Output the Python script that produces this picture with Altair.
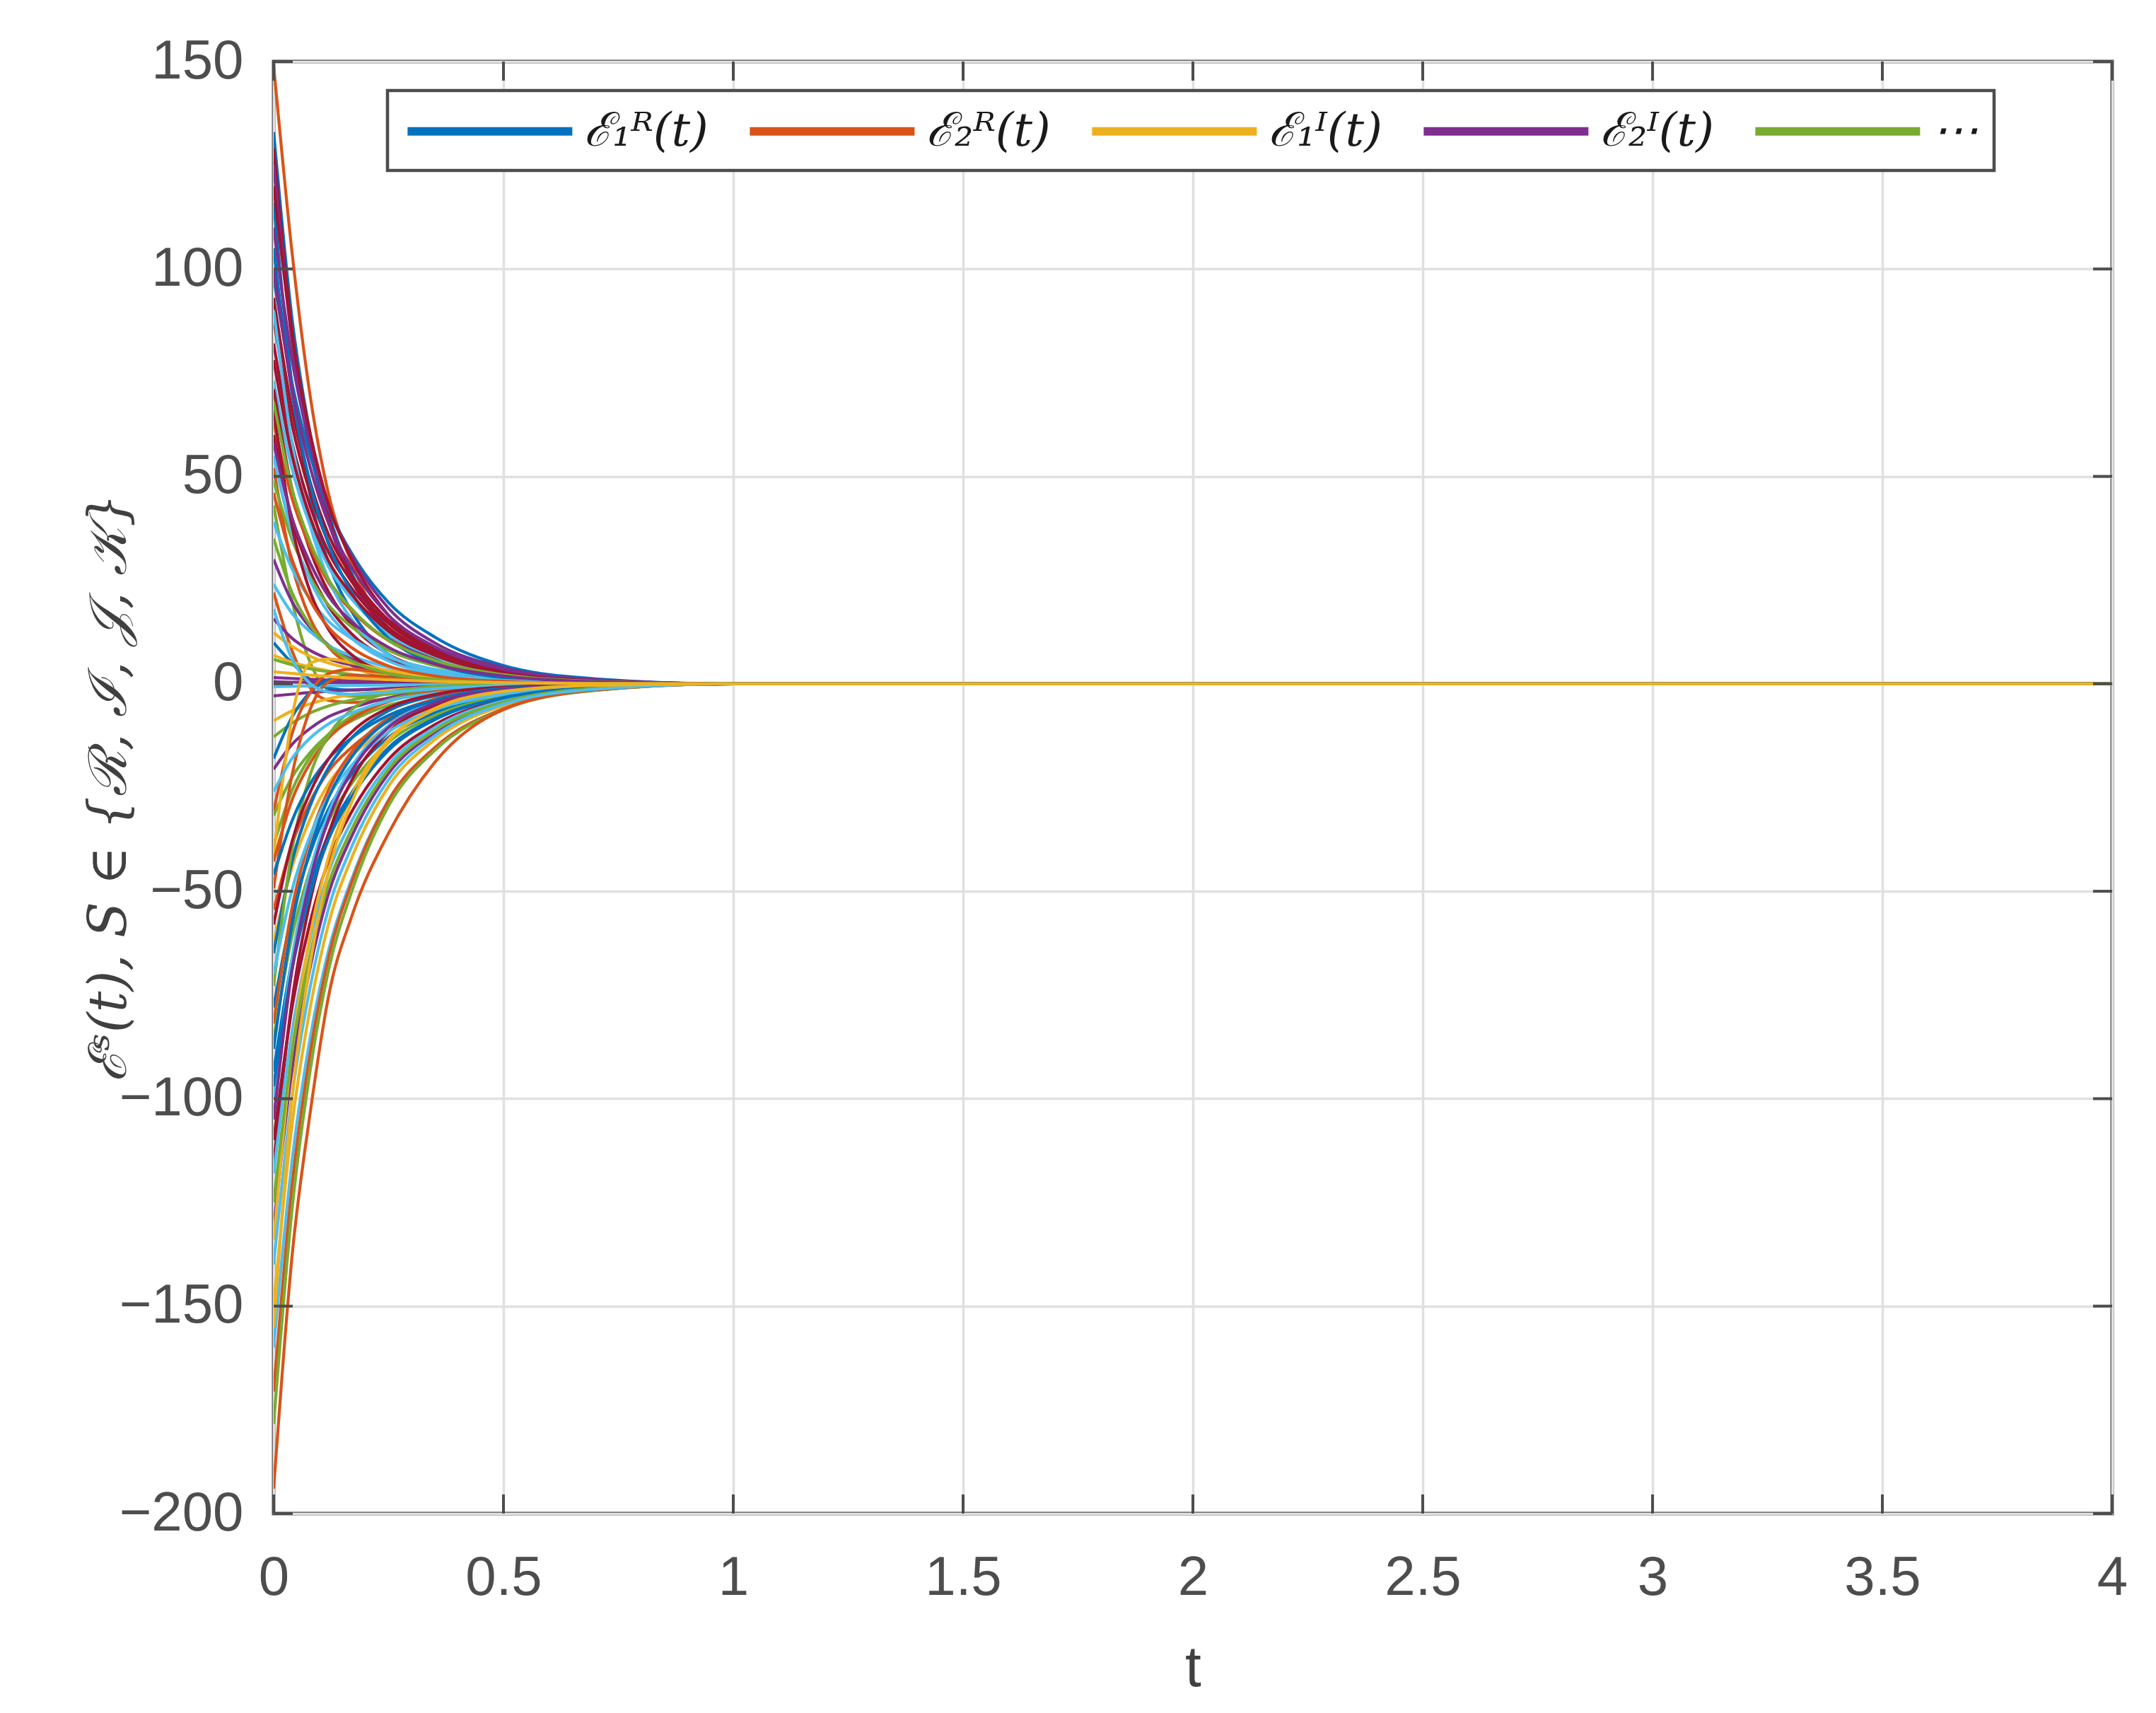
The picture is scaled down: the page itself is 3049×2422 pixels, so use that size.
import altair as alt
import pandas as pd

# ---------------- data ----------------
T_KNOTS = [0, 0.04, 0.08, 0.12, 0.17, 0.25, 0.35, 0.5, 0.7, 1.0, 4.0]

SERIES_NAMES = ["ℰ₁ᴿ(t)", "ℰ₂ᴿ(t)", "ℰ₁ᴵ(t)", "ℰ₂ᴵ(t)", "⋯", "ℰ₁ᴶ(t)", "ℰ₁ᴷ(t)"]
SERIES_COLORS = ["#0072BD", "#D95319", "#EDB120", "#7E2F8E", "#77AC30", "#4DBEEE", "#A2142F"]
COLOR_KEYS = ["B", "O", "Y", "P", "G", "C", "R"]

CURVE_COLORS = [
    "O", "B", "R", "P", "B", "B", "R", "R", "C", "R",
    "O", "R", "O", "G", "G", "C", "P", "C", "O", "P",
    "Y", "B", "Y", "G", "P", "R", "P", "C", "R",
    "P", "C", "P", "Y", "G", "B", "P", "O", "G", "G",
    "Y", "O", "O", "O", "Y", "B", "G", "B", "O", "G",
    "B", "C", "R", "R", "C", "P", "Y", "Y", "C", "O",
    "G", "O",
    "R", "B", "P", "C", "R", "G", "P", "O", "G", "C",
    "C", "B", "R", "C", "B", "B", "P", "G", "C", "Y",
    "Y",
]

CURVE_VALUES = [
    [149, 104, 69, 45.5, 29, 12.3, 5, 1.5, 0.3, 0, 0],
    [133, 88, 60, 41, 26.6, 13.3, 6, 1.7, 0.4, 0, 0],
    [129, 85, 58, 40, 25.8, 12.9, 5.8, 1.7, 0.4, 0, 0],
    [125, 82.5, 56, 38.8, 25, 12.5, 5.6, 1.6, 0.4, 0, 0],
    [116, 72, 45, 29, 17.4, 7, 2.6, 0.6, 0.1, 0, 0],
    [98, 72.5, 54.9, 42.1, 31.4, 19.6, 11.3, 4.4, 1.2, 0, 0],
    [93, 66, 48.4, 35.8, 26, 15.3, 8.4, 3.3, 0.8, 0, 0],
    [88, 62.5, 45.8, 33.9, 24.6, 14.5, 7.9, 3.1, 0.8, 0, 0],
    [73, 51.8, 38, 28.1, 20.4, 12, 6.6, 2.6, 0.7, 0, 0],
    [71, 46.9, 32, 22, 14.2, 7.1, 3.2, 0.9, 0.2, 0, 0],
    [63, 44.7, 32.8, 24.3, 17.6, 10.4, 5.7, 2.2, 0.6, 0, 0],
    [60, 39.6, 27, 18.6, 12, 6, 2.7, 0.8, 0.2, 0, 0],
    [52, 28.6, 15.6, 8.8, 4.4, 1.6, 0.5, 0.1, 0, 0, 0],
    [49, 34.8, 25.5, 18.9, 13.7, 8.1, 4.4, 1.7, 0.4, 0, 0],
    [43, 20, 5, -1.5, -3, -2.5, -1.5, -0.5, -0.1, 0, 0],
    [39, 27.7, 20.3, 15, 10.9, 6.4, 3.5, 1.4, 0.4, 0, 0],
    [30, 19.8, 13.5, 9.3, 6, 3, 1.4, 0.4, 0.1, 0, 0],
    [24, 17, 12.5, 9.2, 6.7, 4, 2.2, 0.8, 0.2, 0, 0],
    [22, 8, -1, -4, -4.5, -3.5, -2, -0.7, -0.2, 0, 0],
    [15.7, 11, 8, 6, 4.5, 2.8, 1.5, 0.6, 0.15, 0, 0],
    [12.3, 9, 6.6, 5, 3.6, 2.2, 1.2, 0.5, 0.1, 0, 0],
    [9.9, 5, 1, -1, -1.5, -1.2, -0.7, -0.3, -0.1, 0, 0],
    [6.9, 5.2, 4, 3.1, 2.3, 1.5, 0.8, 0.3, 0.1, 0, 0],
    [5.9, 4.6, 3.6, 2.9, 2.2, 1.4, 0.8, 0.3, 0.1, 0, 0],
    [1.5, 1.3, 1.1, 0.9, 0.7, 0.5, 0.3, 0.1, 0, 0, 0],
    [82, 58.2, 42.6, 31.6, 23, 13.5, 7.4, 2.9, 0.7, 0, 0],
    [110, 78.1, 57.2, 42.4, 30.8, 18.2, 9.9, 3.9, 1, 0, 0],
    [55, 36.3, 24.8, 17, 11, 5.5, 2.5, 0.7, 0.2, 0, 0],
    [66, 38, 22, 13, 7, 2.6, 0.9, 0.2, 0, 0, 0],
    [0.5, 0.4, 0.35, 0.3, 0.25, 0.15, 0.1, 0.05, 0, 0, 0],
    [-0.7, -0.6, -0.5, -0.45, -0.4, -0.3, -0.2, -0.1, 0, 0, 0],
    [-2.9, -2.5, -2.1, -1.8, -1.5, -1.1, -0.7, -0.3, -0.1, 0, 0],
    [-8.9, -6.5, -4.8, -3.6, -2.6, -1.6, -0.9, -0.35, -0.1, 0, 0],
    [-12.8, -9.5, -7, -5.3, -3.9, -2.4, -1.3, -0.5, -0.1, 0, 0],
    [-18, -8, -2, 1, 2, 1.6, 0.9, 0.3, 0.1, 0, 0],
    [-20.6, -14.6, -10.7, -7.9, -5.8, -3.4, -1.9, -0.7, -0.2, 0, 0],
    [-30.7, -12, -2, 2.5, 3.5, 2.5, 1.3, 0.5, 0.1, 0, 0],
    [-31.7, -22.5, -16.5, -12.2, -8.9, -5.2, -2.9, -1.1, -0.3, 0, 0],
    [-38.9, -25.7, -17.5, -12.1, -7.8, -3.9, -1.8, -0.5, -0.1, 0, 0],
    [-41.4, -8, 5, 6, 5, 3.2, 1.6, 0.6, 0.1, 0, 0],
    [-42.8, -28, -19, -13, -8.5, -4.3, -1.9, -0.6, -0.1, 0, 0],
    [-49.3, -22, -6, 0.5, 2, 1.5, 0.8, 0.3, 0.1, 0, 0],
    [-54.5, -38.7, -28.3, -21, -15.3, -9, -4.9, -1.9, -0.5, 0, 0],
    [-62.3, -44.2, -32.4, -24, -17.4, -10.3, -5.6, -2.2, -0.6, 0, 0],
    [-64.9, -42.8, -29.2, -20.1, -13, -6.5, -2.9, -0.8, -0.2, 0, 0],
    [-72.8, -40, -21.8, -12.4, -6.2, -2.2, -0.7, -0.1, 0, 0, 0],
    [-78, -55.4, -40.6, -30, -21.8, -12.9, -7, -2.7, -0.7, 0, 0],
    [-81.9, -54, -36.9, -25.4, -16.4, -8.2, -3.7, -1.1, -0.2, 0, 0],
    [-85.7, -60.8, -44.6, -33, -24, -14.1, -7.7, -3, -0.8, 0, 0],
    [-93.5, -66.4, -48.6, -36, -26.2, -15.4, -8.4, -3.3, -0.8, 0, 0],
    [-100, -66, -45, -31, -20, -10, -4.5, -1.3, -0.3, 0, 0],
    [-110, -78.1, -57.2, -42.4, -30.8, -18.2, -9.9, -3.9, -1, 0, 0],
    [-115.8, -76.4, -52.1, -35.9, -23.2, -11.6, -5.2, -1.5, -0.3, 0, 0],
    [-118, -83.8, -61.4, -45.4, -33, -19.5, -10.6, -4.1, -1.1, 0, 0],
    [-131, -93, -68.1, -50.4, -36.7, -21.6, -11.8, -4.6, -1.2, 0, 0],
    [-134, -88.4, -60.3, -41.5, -26.8, -13.4, -6, -1.7, -0.4, 0, 0],
    [-149.7, -106.3, -77.8, -57.6, -41.9, -24.7, -13.5, -5.2, -1.3, 0, 0],
    [-160, -115, -85, -64, -47, -28, -15.5, -6, -1.5, 0, 0],
    [-170.6, -121, -88.7, -65.7, -47.8, -28.1, -15.4, -6, -1.5, 0, 0],
    [-178.4, -126.7, -92.8, -68.7, -50, -29.4, -16.1, -6.2, -1.6, 0, 0],
    [-194, -138, -103, -75, -56, -36, -19, -6.2, -1.5, 0, 0],
    [120, 84, 60, 43, 30, 16.5, 8, 2.8, 0.7, 0, 0],
    [105, 70, 48, 33.5, 22, 11, 5, 1.5, 0.3, 0, 0],
    [100, 71, 52, 38.5, 28, 16.5, 9, 3.5, 0.9, 0, 0],
    [90, 58, 38, 25, 15.5, 7, 3, 0.8, 0.2, 0, 0],
    [78, 55, 40, 29.5, 21.5, 12.7, 6.9, 2.7, 0.7, 0, 0],
    [68, 47, 34, 25, 18, 10.5, 5.7, 2.2, 0.6, 0, 0],
    [58, 40, 29, 21, 15, 8.8, 4.8, 1.9, 0.5, 0, 0],
    [46, 30, 20, 13.5, 8.7, 4.3, 1.9, 0.6, 0.1, 0, 0],
    [35, 22, 14, 9, 5.5, 2.5, 1.1, 0.3, 0.1, 0, 0],
    [18, 6, 0, -2, -2.5, -2, -1.2, -0.4, -0.1, 0, 0],
    [-26, -18, -13, -9.6, -7, -4.1, -2.3, -0.9, -0.2, 0, 0],
    [-46, -33, -24, -18, -13, -7.6, -4.1, -1.6, -0.4, 0, 0],
    [-58, -38, -26, -18, -11.6, -5.8, -2.6, -0.8, -0.2, 0, 0],
    [-70, -49.7, -36.4, -27, -19.6, -11.6, -6.3, -2.5, -0.6, 0, 0],
    [-88, -58, -39.6, -27.3, -17.6, -8.8, -4, -1.1, -0.3, 0, 0],
    [-97, -68.9, -50.4, -37.3, -27.2, -16, -8.7, -3.4, -0.9, 0, 0],
    [-105, -69, -47, -32.5, -21, -10.5, -4.7, -1.4, -0.3, 0, 0],
    [-125, -88.8, -65, -48.1, -35, -20.6, -11.3, -4.4, -1.1, 0, 0],
    [-140, -99.4, -72.8, -53.9, -39.2, -23.1, -12.6, -4.9, -1.3, 0, 0],
    [-155, -100, -67, -45, -28.5, -14, -6.2, -1.8, -0.4, 0, 0],
    [2.9, 2.5, 2.1, 1.8, 1.4, 1, 0.6, 0.25, 0.05, 0, 0],
]

X_TICKS = [0, 0.5, 1, 1.5, 2, 2.5, 3, 3.5, 4]
Y_TICKS = [-200, -150, -100, -50, 0, 50, 100, 150]

# ---------------- build table ----------------
rows = []
for i, (ck, vals) in enumerate(zip(CURVE_COLORS, CURVE_VALUES)):
    name = SERIES_NAMES[COLOR_KEYS.index(ck)]
    for t, v in zip(T_KNOTS, vals):
        rows.append({"curve": i, "series": name, "t": t, "v": v})
df = pd.DataFrame(rows)

W, H = 2600, 2053
AX = "#4d4d4d"
TICK = 27

xscale = alt.Scale(domain=[0, 4], nice=False, zero=False)
yscale = alt.Scale(domain=[-200, 150], nice=False, zero=False)

xaxis = alt.Axis(
    values=X_TICKS, format="~g", title="t", grid=True, domain=False, ticks=False,
    labelFlush=False, labelLimit=500,
    labelPadding=52, titleY=243, titleBaseline="alphabetic", titleFontSize=82,
    titleFont="Liberation Sans", titleFontWeight="normal", titleColor="#404040")
yaxis = alt.Axis(
    values=Y_TICKS, format="d", title="ℰˢ(t), S ∈ {ℛ, ℐ, 𝒥, 𝒦}", grid=True, domain=False,
    ticks=False, labelFlush=False, labelLimit=500,
    labelPadding=43, titleX=-232, titleY=H / 2, titleAngle=270,
    titleAlign="center", titleBaseline="middle", titleFontSize=74,
    titleFont="DejaVu Serif", titleFontStyle="italic", titleFontWeight="normal",
    titleColor="#404040")

lines = alt.Chart(df).mark_line(strokeWidth=4.2, interpolate="monotone", clip=True).encode(
    x=alt.X("t:Q", scale=xscale, axis=xaxis),
    y=alt.Y("v:Q", scale=yscale, axis=yaxis),
    color=alt.Color("series:N", scale=alt.Scale(domain=SERIES_NAMES, range=SERIES_COLORS),
                    legend=alt.Legend(
                        values=SERIES_NAMES[:5], orient="none", legendX=161, legendY=41,
                        direction="horizontal", columns=5, title=None,
                        symbolType="M-1,0H7", symbolSize=3393, symbolStrokeWidth=12,
                        labelFont="DejaVu Serif", labelFontStyle="italic",
                        labelFontSize=66, labelColor="#1a1a1a", labelOffset=185,
                        columnPadding=34, padding=22, labelLimit=1000,
                        strokeColor=AX, fillColor="white")),
    detail="curve:N",
)

ytick_df = pd.DataFrame({"v": Y_TICKS})
xtick_df = pd.DataFrame({"t": X_TICKS})

left_ticks = alt.Chart(ytick_df).mark_rule(color=AX, strokeWidth=4).encode(
    y=alt.Y("v:Q", scale=yscale, axis=yaxis), x=alt.value(0), x2=alt.value(TICK))
right_ticks = alt.Chart(ytick_df).mark_rule(color=AX, strokeWidth=4).encode(
    y=alt.Y("v:Q", scale=yscale, axis=yaxis), x=alt.value(W - TICK), x2=alt.value(W))
bottom_ticks = alt.Chart(xtick_df).mark_rule(color=AX, strokeWidth=4).encode(
    x=alt.X("t:Q", scale=xscale, axis=xaxis), y=alt.value(H - TICK), y2=alt.value(H))
top_ticks = alt.Chart(xtick_df).mark_rule(color=AX, strokeWidth=4).encode(
    x=alt.X("t:Q", scale=xscale, axis=xaxis), y=alt.value(0), y2=alt.value(TICK))

chart = alt.layer(lines, left_ticks, right_ticks, bottom_ticks, top_ticks).properties(
    width=W, height=H,
    autosize=alt.AutoSizeParams(type="none"),
    padding={"left": 379, "top": 79, "right": 50, "bottom": 270},
    background="white",
).configure_view(
    stroke=AX, strokeWidth=5
).configure_axis(
    labelFont="Liberation Sans", labelFontSize=78, labelColor=AX,
    gridColor="#e0e0e0", gridWidth=3.5, gridOpacity=1,
).configure_legend(
    strokeWidth=4.5
)

chart.save("out.html", embed_options={"renderer": "svg", "actions": False})
